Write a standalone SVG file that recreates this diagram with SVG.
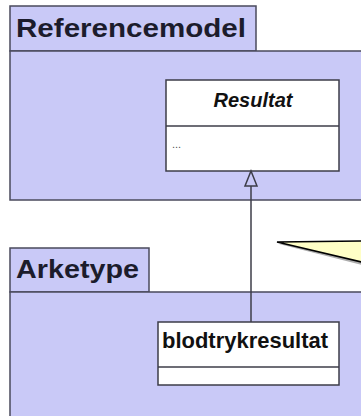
<svg xmlns="http://www.w3.org/2000/svg" width="361" height="416" viewBox="0 0 361 416">
<style>
.pkg{fill:#c9c9f7;stroke:#4a4a5c;stroke-width:1.5}
.cls{fill:#ffffff;stroke:#3c3c48;stroke-width:1.5}
.ptitle{font-family:"Liberation Sans",Arial,sans-serif;font-weight:bold;font-size:25px;fill:#1c1c2c}
.ctitle{font-family:"Liberation Sans",Arial,sans-serif;font-weight:bold;fill:#111111}
.conn{stroke:#3c3c48;stroke-width:1.5;fill:none}
</style>
<rect width="361" height="416" fill="#ffffff"/>
<g id="pkg-referencemodel">
<rect class="pkg" x="10" y="6" width="246" height="45"/>
<rect class="pkg" x="10" y="51" width="360" height="149"/>
<text class="ptitle" x="16" y="36.5" textLength="230" lengthAdjust="spacingAndGlyphs">Referencemodel</text>
</g>
<g id="pkg-arketype">
<rect class="pkg" x="10" y="248" width="139" height="44"/>
<rect class="pkg" x="10" y="292" width="360" height="130"/>
<text class="ptitle" x="16" y="277.5" textLength="123" lengthAdjust="spacingAndGlyphs">Arketype</text>
</g>
<g id="note">
<polygon points="279,244 370,243 370,267" fill="#777777" opacity="0.6"/>
<polygon points="277,242 370,241 370,264" fill="#ffffc6" stroke="#000000" stroke-width="1.5"/>
</g>
<g id="class-resultat">
<rect class="cls" x="166" y="80" width="173" height="91"/>
<line class="conn" x1="166" y1="126" x2="339" y2="126"/>
<text class="ctitle" x="253" y="107" font-size="20" font-style="italic" text-anchor="middle">Resultat</text>
<text x="172" y="148" font-family="Liberation Sans,Arial,sans-serif" font-size="11" fill="#555555">...</text>
</g>
<g id="class-blodtrykresultat">
<rect class="cls" x="158" y="322" width="181" height="63"/>
<line class="conn" x1="158" y1="367" x2="339" y2="367"/>
<text class="ctitle" x="162" y="348" font-size="22" textLength="166" lengthAdjust="spacingAndGlyphs">blodtrykresultat</text>
</g>
<g id="connectors">
<line class="conn" x1="251" y1="186" x2="251" y2="322"/>
<polygon class="conn" points="251,171 245,186 257,186"/>
</g>
</svg>
